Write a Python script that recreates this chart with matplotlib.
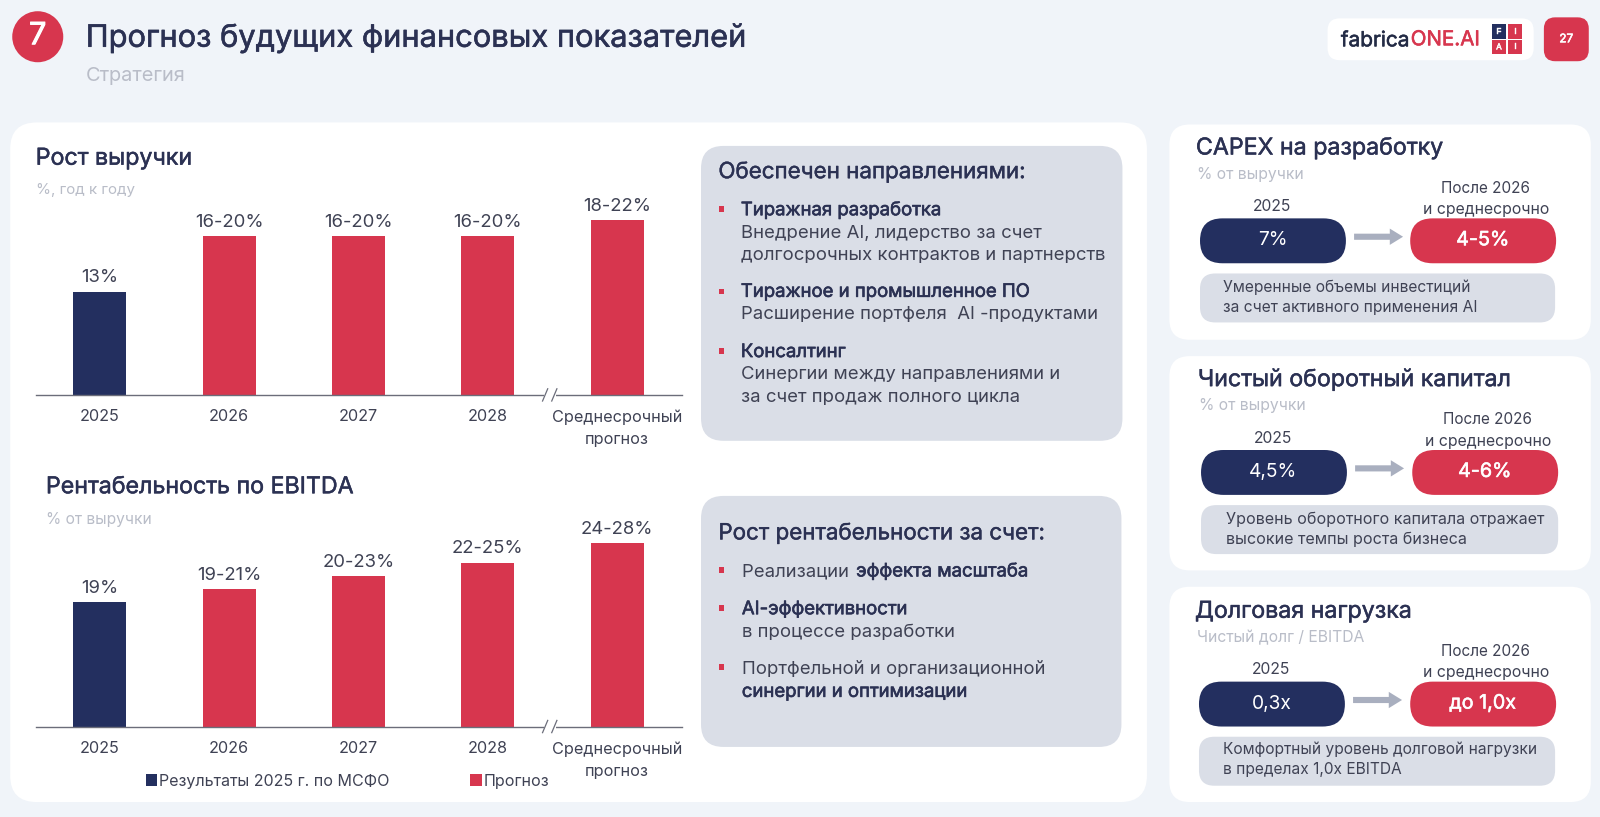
import matplotlib
matplotlib.use("Agg")
import matplotlib.pyplot as plt
import matplotlib.patheffects as pe
from matplotlib.patches import FancyBboxPatch, Rectangle, Circle, FancyArrow

plt.rcParams['font.family'] = ['Inter', 'Noto Sans', 'DejaVu Sans']

# ---------- data ----------
categories = ["2025", "2026", "2027", "2028", "Среднесрочный\nпрогноз"]
revenue_values = [13, 20, 20, 20, 22]
revenue_labels = ["13%", "16-20%", "16-20%", "16-20%", "18-22%"]
ebitda_values = [19, 21, 23, 25, 28]
ebitda_labels = ["19%", "19-21%", "20-23%", "22-25%", "24-28%"]
legend_labels = ["Результаты 2025 г. по МСФО", "Прогноз"]
capex_values = ["7%", "4-5%"]
nwc_values = ["4,5%", "4-6%"]
debt_values = ["0,3x", "до 1,0x"]

NAVY = "#232F5F"; RED = "#D7364E"; BG = "#F0F4F9"; GREY = "#DADEE7"
DARK = "#2B3153"; MUTED = "#B9BDC8"; TXT = "#3F4254"; ARROW = "#A9AFBF"; AXIS = "#6B6D7A"

fig = plt.figure(figsize=(16, 8.17), dpi=100, facecolor=BG)
W, H = 1568.0, 1568.0 * 817 / 1600
ov = fig.add_axes([0, 0, 1, 1], zorder=0)
ov.set_xlim(0, W); ov.set_ylim(H, 0); ov.axis("off")
top = fig.add_axes([0, 0, 1, 1], zorder=5)
top.set_xlim(0, W); top.set_ylim(H, 0); top.axis("off"); top.patch.set_alpha(0)


def box(x0, y0, x1, y1, r, color, ax=ov, z=1):
    ax.add_patch(FancyBboxPatch((x0, y0), x1 - x0, y1 - y0,
                 boxstyle=f"round,pad=0,rounding_size={r}", fc=color, ec="none", zorder=z))


def T(x, y, s, size, color=TXT, ha="left", va="center", stroke=0.0):
    t = top.text(x, y + 1.5, s, fontsize=size, color=color, ha=ha, va=va, zorder=10)
    if stroke:
        t.set_path_effects([pe.withStroke(linewidth=stroke, foreground=color)])
    return t


def runs(x, y, parts, size, color=DARK):
    """Left-aligned line with mixed weights."""
    r = fig.canvas.get_renderer()
    for s, st in parts:
        t = T(x, y, s, size, color=color if st else TXT, stroke=st)
        bb = t.get_window_extent(r).transformed(top.transData.inverted())
        x = bb.x1 + (size * 0.15 if s.endswith(" ") else 0)


# ---------- header ----------
top.add_patch(Circle((37, 36), 25, fc=RED, ec="none"))
T(37, 34, "7", 22, color="white", ha="center", stroke=0.7)
T(84, 36, "Прогноз будущих финансовых показателей", 22.2, color=DARK, stroke=0.4)
T(84, 73, "Стратегия", 14.4, color=MUTED)

box(1301, 18, 1503, 59, 12, "white")
r_ = fig.canvas.get_renderer()
t_ = T(1314, 38, "fabrica", 15, color="#232B45", stroke=0.4)
bb_ = t_.get_window_extent(r_).transformed(top.transData.inverted())
T(bb_.x1 + 1, 38, "ONE.AI", 14.8, color=RED, stroke=0.4)
for (cx, cy, ch, c) in [(1469, 31, "F", NAVY), (1485, 31, "I", RED),
                        (1469, 46, "A", RED), (1485, 46, "I", RED)]:
    ov.add_patch(Rectangle((cx - 7, cy - 7), 14, 14, fc=c, ec="none", zorder=2))
    T(cx, cy - 1.5, ch, 6, color="white", ha="center", stroke=0.3)
box(1513, 17, 1557, 60, 11, RED)
T(1535, 37, "27", 8.5, color="white", ha="center", stroke=0.4)

# ---------- cards ----------
box(10, 120, 1124, 786, 26, "white")
box(1146, 122, 1559, 333, 20, "white")
box(1146, 349, 1559, 559, 20, "white")
box(1146, 575, 1559, 786, 20, "white")
box(687, 143, 1100, 432, 22, GREY, z=2)
box(687, 486, 1099, 732, 22, GREY, z=2)


# ---------- bar charts ----------
def chart(baseline, top_y, per_unit, values, labels, left=35, right=668):
    colors = [NAVY] + [RED] * (len(values) - 1)
    ax = fig.add_axes([left / W, 1 - baseline / H, (right - left) / W, (baseline - top_y) / H], zorder=3)
    ax.patch.set_alpha(0)
    ax.bar(range(len(values)), values, width=0.41, color=colors, zorder=2)
    ax.set_xlim(-0.497, 4.5)
    ax.set_ylim(0, (baseline - top_y) / per_unit)
    for s in ["top", "left", "right"]:
        ax.spines[s].set_visible(False)
    ax.spines["bottom"].set_color(AXIS)
    ax.spines["bottom"].set_linewidth(1.0)
    ax.set_yticks([])
    ax.set_xticks(range(len(values)))
    ax.set_xticklabels(categories, fontsize=11.7, color=TXT, linespacing=1.6, va="top")
    ax.tick_params(axis="x", length=0, pad=10.5)
    for i, (v, lab) in enumerate(zip(values, labels)):
        ax.annotate(lab, (i, v), xytext=(0, 4), textcoords="offset points", ha="center",
                    va="bottom", fontsize=13.3, color=TXT)
    # axis break mark
    ax.plot([3.444, 3.515], [0, 0], color="white", lw=2.2, zorder=3, clip_on=False)
    for xc in (3.444, 3.515):
        ax.plot([xc - 0.02, xc + 0.02], [-6 / per_unit, 6 / per_unit],
                color=AXIS, lw=0.9, clip_on=False, zorder=4)
    return ax


chart(387, 190, 7.77, revenue_values, revenue_labels)
chart(712, 510, 6.41, ebitda_values, ebitda_labels)

T(35, 154, "Рост выручки", 16.7, color=DARK, stroke=0.35)
T(35, 185, "%, год к году", 10.9, color=MUTED)
T(45, 476, "Рентабельность по EBITDA", 16.7, color=DARK, stroke=0.35)
T(45, 508, "% от выручки", 11.2, color=MUTED)

ov.add_patch(Rectangle((143, 759), 11, 11, fc=NAVY, ec="none", zorder=2))
T(156, 764, legend_labels[0], 11.55)
ov.add_patch(Rectangle((461, 759), 11, 11, fc=RED, ec="none", zorder=2))
T(474, 764, legend_labels[1], 11.55)

# ---------- middle panels ----------
T(704, 167, "Обеспечен направлениями:", 16.1, color=DARK, stroke=0.3)
T(704, 521, "Рост рентабельности за счет:", 16.1, color=DARK, stroke=0.3)


def bullet(y):
    ov.add_patch(Rectangle((704.5, y - 3), 5.5, 5.5, fc=RED, ec="none", zorder=3))


BS = 13.35
BST = 0.45
bullet(205); T(726, 205, "Тиражная разработка", BS, color=DARK, stroke=BST)
T(726, 227, "Внедрение AI, лидерство за счет", BS)
T(726, 249, "долгосрочных контрактов и партнерств", BS)
bullet(286); T(726, 285, "Тиражное и промышленное ПО", BS, color=DARK, stroke=BST)
T(726, 307, "Расширение портфеля  AI -продуктами", BS)
bullet(344); T(726, 344, "Консалтинг", BS, color=DARK, stroke=BST)
T(726, 366, "Синергии между направлениями и", BS)
T(726, 388, "за счет продаж полного цикла", BS)

bullet(559); runs(727, 559, [("Реализации ", 0), ("эффекта масштаба", BST)], BS)
bullet(596); T(727, 596, "AI-эффективности", BS, color=DARK, stroke=BST)
T(727, 618, "в процессе разработки", BS)
bullet(654); T(727, 655, "Портфельной и организационной", BS)
T(727, 677, "синергии и оптимизации", BS, color=DARK, stroke=BST)


# ---------- right cards ----------
def kpi(title, sub, title_xy, sub_xy, nx, rx, py, nrx, vals, note_x, note_y, note, ns):
    T(title_xy[0], title_xy[1], title, 16.7, color=DARK, stroke=0.35)
    T(sub_xy[0], sub_xy[1], sub, 11.3, color=MUTED)
    box(nx, py, nx + 143, py + 44, 22, NAVY, z=2)
    box(rx, py, rx + 143, py + 44, 22, RED, z=2)
    T(nx + 71, py + 20, vals[0], 13.8, color="white", ha="center")
    T(rx + 71, py + 20, vals[1], 14.2, color="white", ha="center", stroke=0.4)
    T(nx + 71, py - 13, "2025", 11.3, ha="center")
    T(rx + 74, py - 31, "После 2026", 11.0, ha="center")
    T(rx + 74, py - 10, "и среднесрочно", 11.4, ha="center")
    ov.add_patch(FancyArrow(nx + 151, py + 18, 48, 0, width=6, head_width=16, head_length=13,
                            length_includes_head=True, fc=ARROW, ec="none", zorder=3))
    box(nx, py + 54, nrx, py + 102, 15, GREY, z=2)
    T(note_x, note_y - 1, note[0], ns)
    T(note_x, note_y + 19, note[1], ns)


kpi("CAPEX на разработку", "% от выручки", (1172, 144), (1173, 170), 1176, 1382, 214, 1524,
    capex_values, 1199, 281, ("Умеренные объемы инвестиций", "за счет активного применения AI"), 11.2)
kpi("Чистый оборотный капитал", "% от выручки", (1174, 371), (1175, 396), 1177, 1384, 441, 1527,
    nwc_values, 1201, 508, ("Уровень оборотного капитала отражает", "высокие темпы роста бизнеса"), 11.55)
kpi("Долговая нагрузка", "Чистый долг / EBITDA", (1171, 598), (1173, 623), 1175, 1382, 668, 1524,
    debt_values, 1199, 734, ("Комфортный уровень долговой нагрузки", "в пределах 1,0x EBITDA"), 11.15)

fig.savefig("out.png", dpi=100, facecolor=BG)
